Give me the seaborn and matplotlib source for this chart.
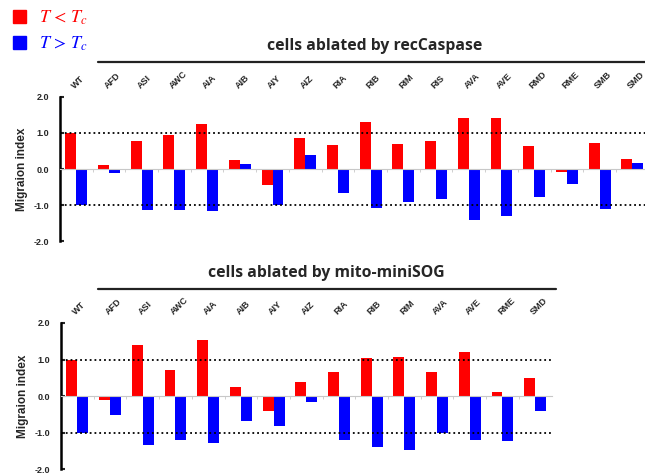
import numpy as np
import pandas as pd
import matplotlib
matplotlib.use('Agg')
import matplotlib.pyplot as plt
import seaborn as sns
from matplotlib.lines import Line2D
from matplotlib.patches import Patch

# Values
cells_casp = ['WT', 'AFD', 'ASI', 'AWC', 'AIA', 'AIB', 'AIY', 'AIZ', 'RIA',
              'RIB', 'RIM', 'RIS', 'AVA', 'AVE', 'RMD', 'RME', 'SMB', 'SMD']
below_casp = [1.00, 0.10, 0.77, 0.95, 1.25, 0.26, -0.45, 0.87, 0.66,
              1.31, 0.70, 0.79, 1.43, 1.41, 0.63, -0.09, 0.73, 0.28]
above_casp = [-1.00, -0.11, -1.14, -1.14, -1.17, 0.14, -1.00, 0.38, -0.68,
              -1.07, -0.92, -0.82, -1.41, -1.31, -0.78, -0.41, -1.12, 0.18]

cells_sog = ['WT', 'AFD', 'ASI', 'AWC', 'AIA', 'AIB', 'AIY', 'AIZ', 'RIA',
             'RIB', 'RIM', 'AVA', 'AVE', 'RME', 'SMD']
below_sog = [1.00, -0.11, 1.39, 0.71, 1.53, 0.25, -0.40, 0.39, 0.67,
             1.04, 1.06, 0.65, 1.20, 0.10, 0.50]
above_sog = [-1.00, -0.52, -1.34, -1.21, -1.28, -0.69, -0.82, -0.16, -1.21,
             -1.40, -1.49, -1.01, -1.20, -1.23, -0.42]

yticks = [-2.0, -1.0, 0.0, 1.0, 2.0]
conds = ['below', 'above']
colors = {'below': '#ff0000', 'above': '#0000ff'}

sns.set_style('white')
plt.rcParams['font.family'] = ['Liberation Sans', 'DejaVu Sans']
plt.rcParams['mathtext.fontset'] = 'stix'


def to_long(cells, below, above):
    return pd.DataFrame({
        'cell': cells + cells,
        'cond': ['below'] * len(cells) + ['above'] * len(cells),
        'value': below + above,
    })


def draw_panel(ax, cells, below, above):
    df = to_long(cells, below, above)
    sns.barplot(data=df, x='cell', y='value', hue='cond', order=cells,
                hue_order=conds, palette=colors, width=0.67, gap=0,
                saturation=1, errorbar=None, legend=False, ax=ax,
                linewidth=0, edgecolor='none')
    n = len(cells)
    ax.set_xlim(-0.5, n - 0.5)
    ax.set_ylim(-2, 2)
    ax.axhline(1, color='black', ls=':', lw=1.3)
    ax.axhline(-1, color='black', ls=':', lw=1.3)

    for s in ['top', 'right']:
        ax.spines[s].set_visible(False)
    ax.spines['left'].set_linewidth(1.8)
    ax.spines['left'].set_color('black')
    ax.spines['bottom'].set_position(('data', 0))
    ax.spines['bottom'].set_color('#c8c8c8')
    ax.spines['bottom'].set_linewidth(0.8)

    ax.set_xticks(np.arange(n))
    ax.set_xticklabels(cells, fontsize=6.5, fontweight='bold')
    ax.set_xticks(np.arange(n - 1) + 0.5, minor=True)
    ax.tick_params(axis='x', which='major', bottom=False, top=False,
                   labelbottom=False, labeltop=True, pad=1)
    ax.tick_params(axis='x', which='minor', bottom=True, length=2,
                   color='#c8c8c8', direction='out')
    for lab in ax.get_xticklabels():
        lab.set_rotation(45)
        lab.set_ha('left')
        lab.set_rotation_mode('anchor')

    ax.set_yticks(yticks)
    ax.set_yticklabels([f'{v:.1f}' for v in yticks], fontsize=6.5,
                       fontweight='bold')
    ax.tick_params(axis='y', direction='in', length=3, width=1.5, pad=8,
                   left=True)
    ax.set_xlabel('')
    ax.set_ylabel('Migraion index', fontsize=8.5, fontweight='bold',
                  labelpad=4)


fig = plt.figure(figsize=(6.45, 4.75), dpi=100)

ax1 = fig.add_axes([0.093, 0.4926, 0.9126, 0.3032])
draw_panel(ax1, cells_casp, below_casp, above_casp)

ax2 = fig.add_axes([0.0946, 0.0126, 0.7605, 0.3074])
draw_panel(ax2, cells_sog, below_sog, above_sog)

# panel titles with rules underneath
fig.text(375 / 645, 1 - 46 / 475, 'cells ablated by recCaspase',
         ha='center', va='center', fontsize=11.3, fontweight='bold',
         family=['Open Sans', 'DejaVu Sans'])
fig.add_artist(Line2D([98 / 645, 1.0], [1 - 62 / 475] * 2, color='#222222',
                      lw=1.6, transform=fig.transFigure))
fig.text(326 / 645, 1 - 273 / 475, 'cells ablated by mito-miniSOG',
         ha='center', va='center', fontsize=11.3, fontweight='bold',
         family=['Open Sans', 'DejaVu Sans'])
fig.add_artist(Line2D([98 / 645, 556 / 645], [1 - 289 / 475] * 2,
                      color='#222222', lw=1.6, transform=fig.transFigure))

# legend
handles = [Patch(color=colors['below']), Patch(color=colors['above'])]
leg = fig.legend(handles, [r'$T\,<\,T_c$', r'$T\,>\,T_c$'], loc='upper left',
                 bbox_to_anchor=(0.008, 0.998), frameon=False, fontsize=13,
                 handlelength=0.7, handleheight=0.7, handletextpad=0.7,
                 labelspacing=0.4, borderaxespad=0.05)
for txt, c in zip(leg.get_texts(), [colors['below'], colors['above']]):
    txt.set_color(c)

fig.savefig('out.png', dpi=100)
